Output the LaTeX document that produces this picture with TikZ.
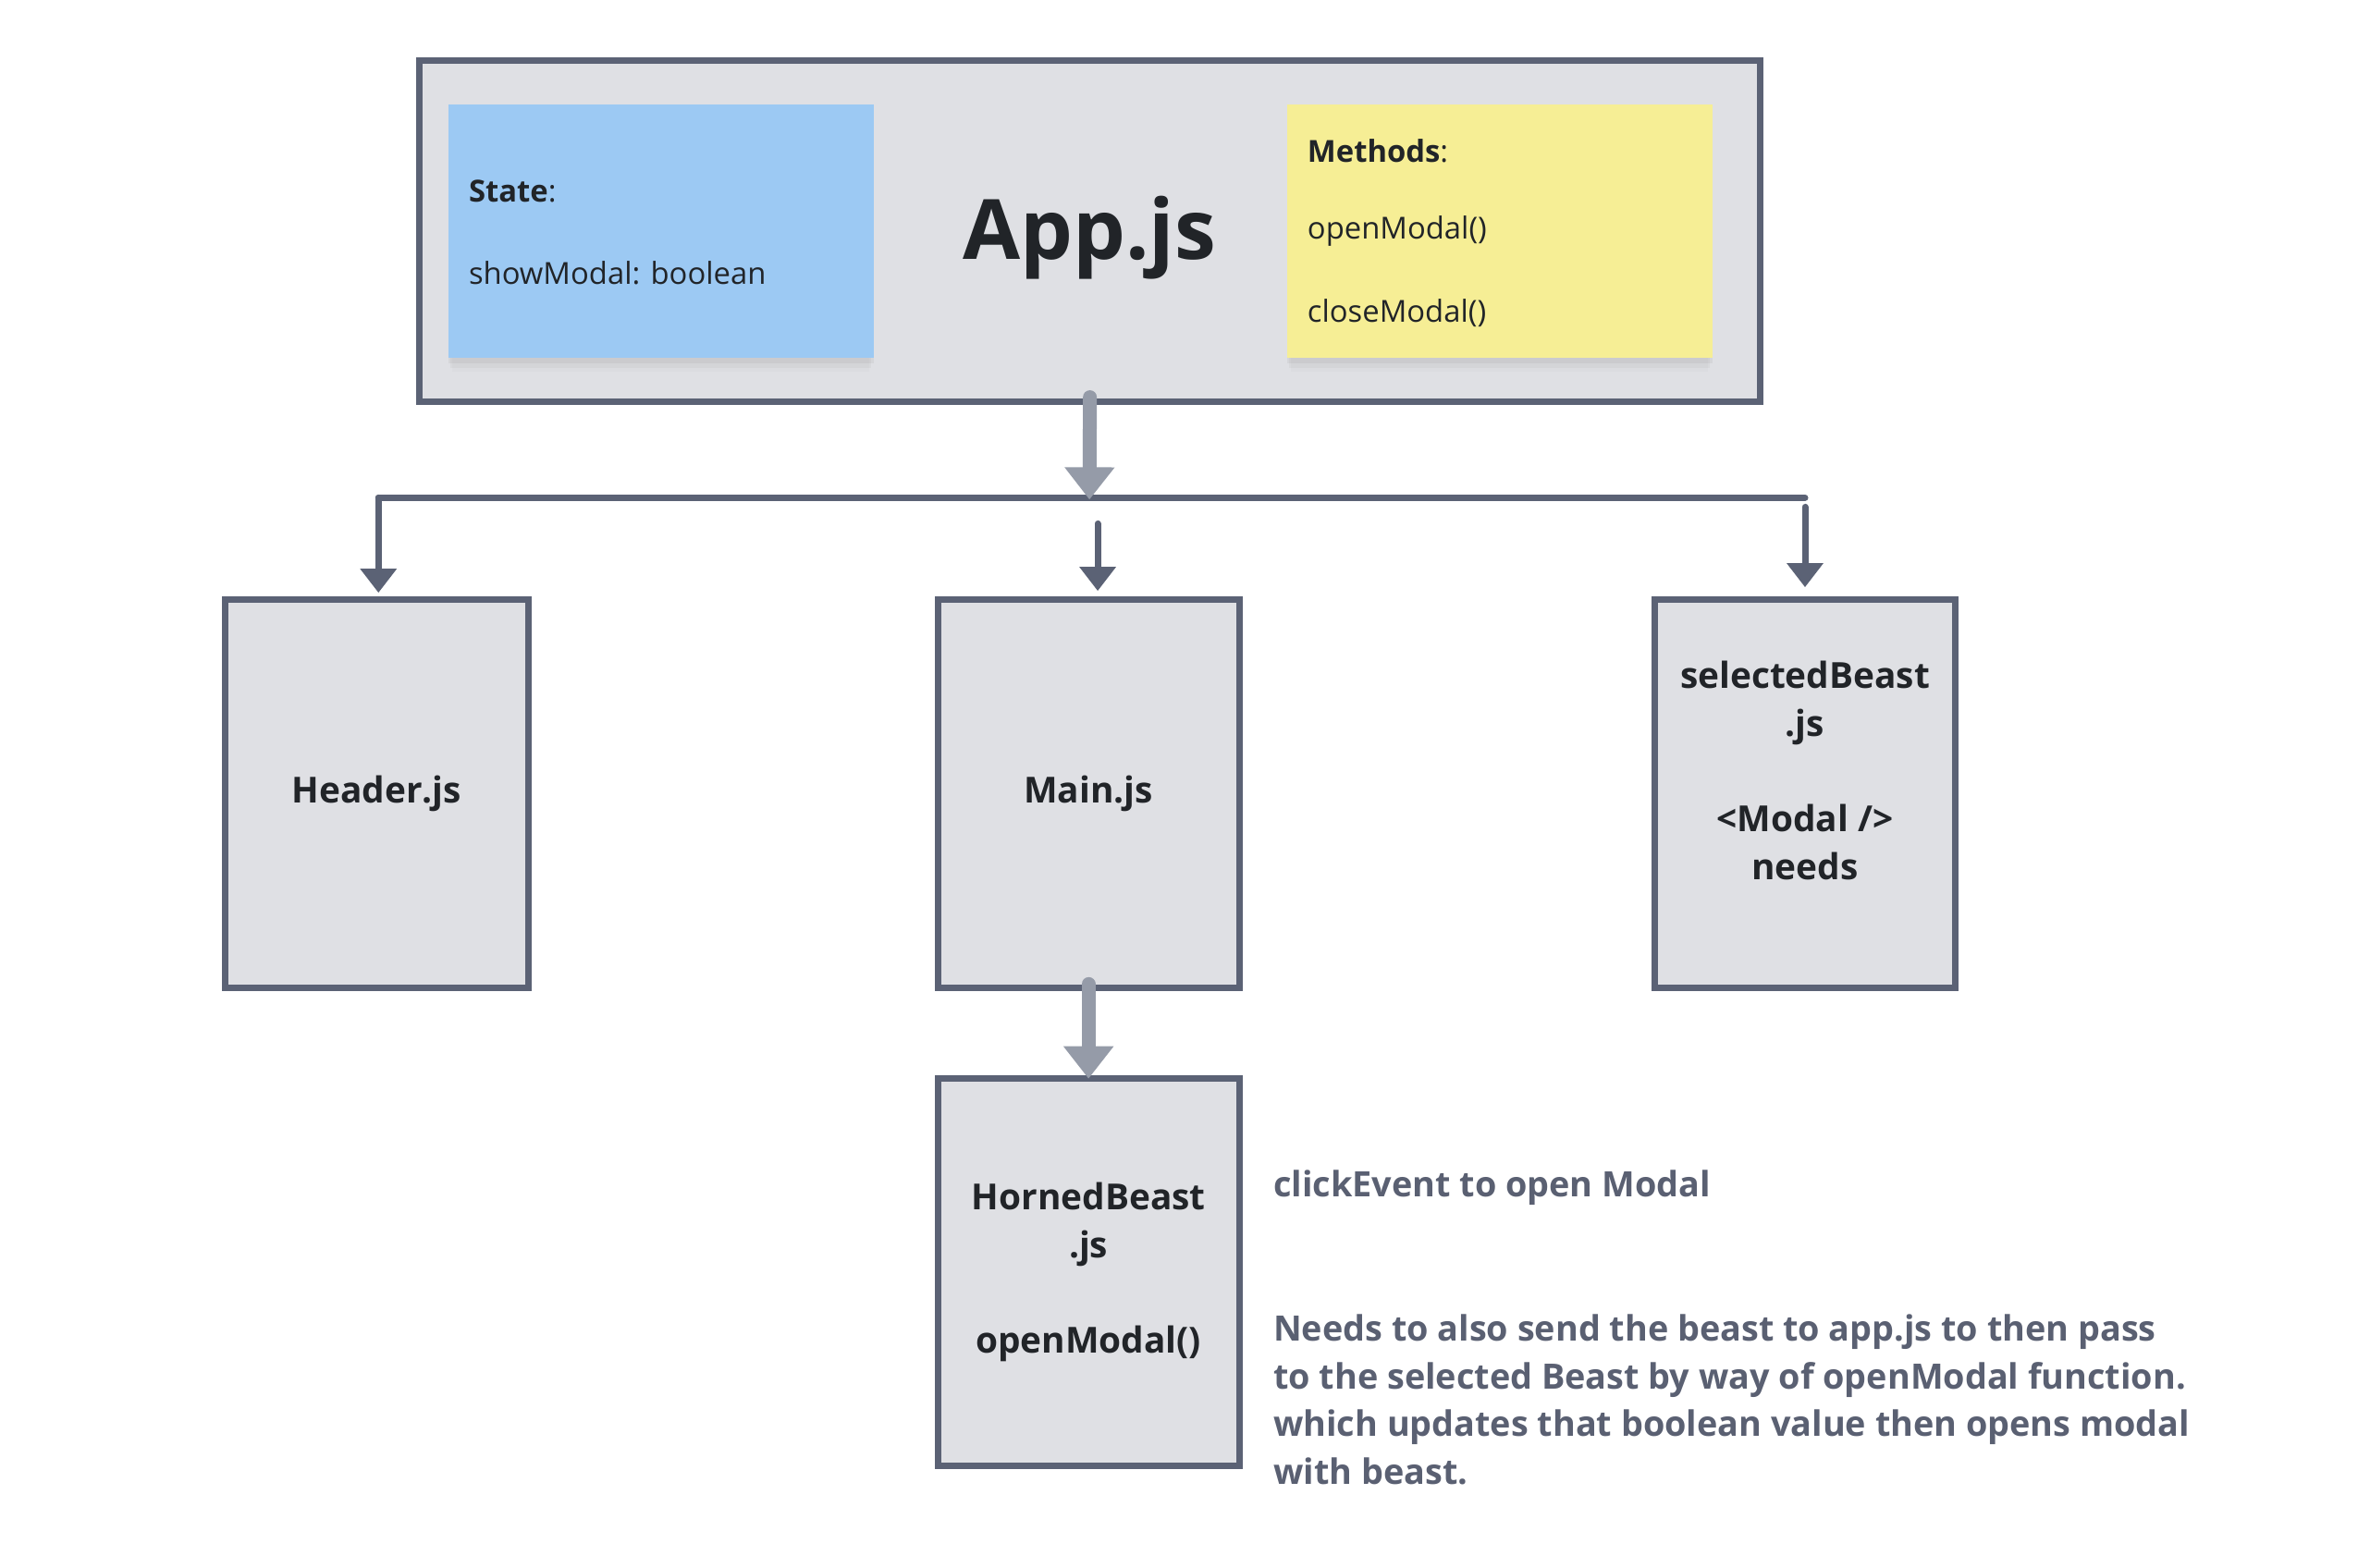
\documentclass[tikz,border=0pt]{standalone}
\usepackage{fontspec}
\setmainfont{Open Sans}
\usetikzlibrary{arrows.meta,shadows}
\definecolor{boxfill}{HTML}{DFE0E4}
\definecolor{boxline}{HTML}{5B6275}
\definecolor{thickgray}{HTML}{959BA8}
\definecolor{stateblue}{HTML}{9CC9F3}
\definecolor{methyellow}{HTML}{F6EE95}
\definecolor{ink}{HTML}{212428}
\definecolor{notegray}{HTML}{5A6072}
\def\pxu{0.4967pt}
\tikzset{
  compbox/.style={draw=boxline, fill=boxfill, line width=3.5pt, rectangle, inner sep=0pt},
  sticky/.style={rectangle, inner sep=0pt, minimum width=463*\pxu, minimum height=276*\pxu,
    drop shadow={shadow xshift=0pt, shadow yshift=-3pt, opacity=0.10},
    drop shadow={shadow xshift=0pt, shadow yshift=-6pt, shadow scale=0.99, opacity=0.07},
    drop shadow={shadow xshift=0pt, shadow yshift=-9pt, shadow scale=0.98, opacity=0.04}},
  boxlabel/.style={font=\fontsize{19.4}{25.8}\selectfont\bfseries, text=ink, align=center, inner sep=0pt},
  stickytext/.style={font=\fontsize{16.4}{20}\selectfont, text=ink, anchor=west, inner sep=0pt},
  notetext/.style={font=\fontsize{18.9}{25.7}\selectfont\bfseries, text=notegray, align=left, anchor=west, inner sep=0pt},
  busline/.style={draw=boxline, line width=3.5pt, line cap=round},
  thinarrow/.style={draw=boxline, line width=3.5pt, line cap=round, -{Triangle[width=19pt,length=13pt]}},
  bigarrow/.style={draw=thickgray, line width=7.5pt, line cap=round, -{Triangle[width=26pt,length=17.5pt]}},
}
\begin{document}
\begin{tikzpicture}[x=\pxu,y=-\pxu]
\useasboundingbox[fill=white] (-3,-4) rectangle (2564,1703.3);

% App container
\node[compbox, minimum width=1459*\pxu, minimum height=371*\pxu] (app) at (1183.5,247.5) {};
\node[sticky, fill=stateblue] (state) at (716.5,248) {};
\node[sticky, fill=methyellow] (methods) at (1629.5,248) {};
\node[font=\fontsize{45}{50}\selectfont\bfseries, text=ink, inner sep=0pt] (apptitle) at (1183,255) {App.js};
\node[stickytext] (statehead) at (507,204) {\textbf{State}:};
\node[stickytext] (stateval) at (507,293) {showModal: boolean};
\node[stickytext] (methhead) at (1420,160) {\textbf{Methods}:};
\node[stickytext] (methopen) at (1420,248) {openModal()};
\node[stickytext] (methclose) at (1420,337) {closeModal()};

% children
\node[compbox, minimum width=330*\pxu, minimum height=423*\pxu] (header) at (407,860.5) {};
\node[compbox, minimum width=328*\pxu, minimum height=423*\pxu] (main) at (1182,860.5) {};
\node[compbox, minimum width=328*\pxu, minimum height=423*\pxu] (selected) at (1962,860.5) {};
\node[compbox, minimum width=328*\pxu, minimum height=422*\pxu] (horned) at (1182,1381) {};

\node[boxlabel] (headerlbl) at (header.center) {Header.js};
\node[boxlabel] (mainlbl) at (main.center) {Main.js};
\node[boxlabel] (selectedlbl) at (1962,835) {selectedBeast\\.js\\[25.8pt]<Modal />\\needs};
\node[boxlabel] (hornedlbl) at (horned.center) {HornedBeast\\.js\\[25.8pt]openModal()};

% notes
\node[notetext] (clicknote) at (1383,1289) {clickEvent to open Modal};
\node[notetext] (needsnote) at (1383,1520) {Needs to also send the beast to app.js to then pass\\to the selected Beast by way of openModal function.\\which updates that boolean value then opens modal\\with beast.};

% bus
\coordinate (busL) at (409,538);
\coordinate (busR) at (1962,538);
\coordinate (busM) at (1183,540);
\draw[busline] (busL) -- (busR);

% connectors
\draw[bigarrow] ([yshift=4pt]app.south) -- (busM);
\draw[thinarrow] (busL) -- ([yshift=2pt]busL |- header.north);
\draw[thinarrow] ([yshift=-14pt]1192,538) coordinate (midstart) -- ([yshift=3pt]midstart |- main.north);
\draw[thinarrow] ([yshift=-5pt]busR) -- ([yshift=5pt]busR |- selected.north);
\draw[bigarrow] ([yshift=4pt]main.south) -- ([yshift=-2pt]horned.north);
\end{tikzpicture}
\end{document}
